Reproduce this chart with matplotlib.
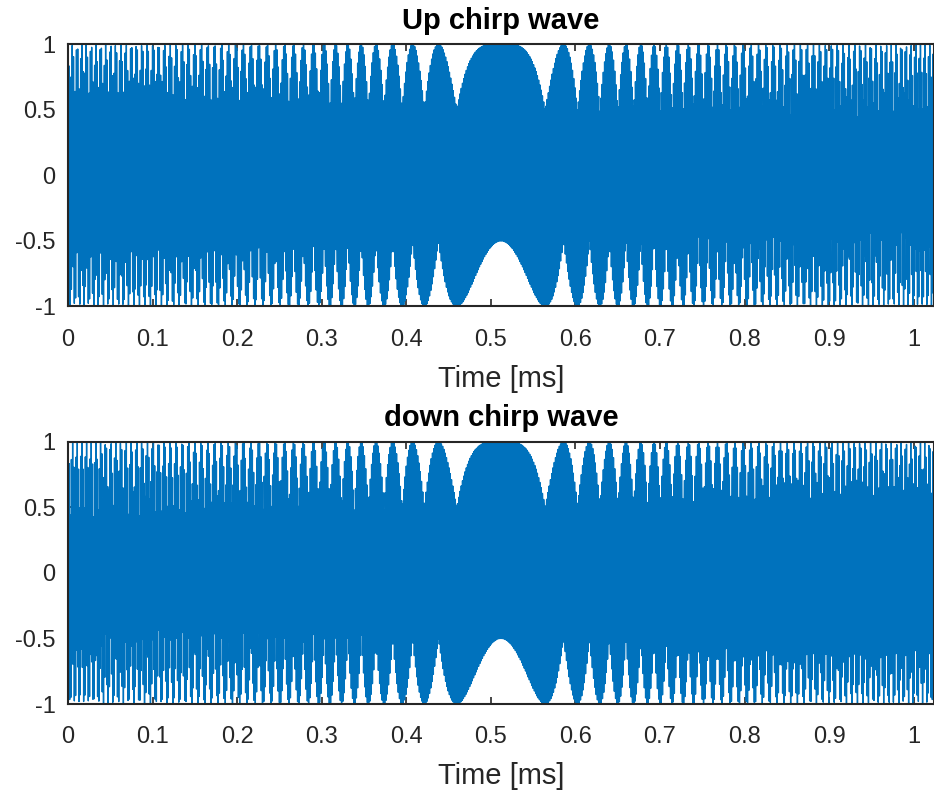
import numpy as np
import matplotlib
matplotlib.use('Agg')
import matplotlib.pyplot as plt

# LoRa-style chirp settings
SF = 7
BW = 125e3          # Hz
fs = 2e6            # Hz
carrier_ratio = 1 / 3   # carrier as a fraction of fs

T = 2**SF / BW
n = np.arange(int(round(T * fs)) + 1)
t = n / fs

# chirp phase sweeping -BW/2 .. +BW/2
chirp_phase = 2 * np.pi * (-BW / 2 * t + BW / (2 * T) * t**2)
carrier = 2 * np.pi * carrier_ratio * n

up_chirp = np.cos(carrier + chirp_phase)
down_chirp = np.cos(carrier - chirp_phase)

xticks = np.arange(0, 1.01, 0.1)
xtick_labels = ['0', '0.1', '0.2', '0.3', '0.4', '0.5', '0.6', '0.7', '0.8', '0.9', '1']
yticks = [-1, -0.5, 0, 0.5, 1]
ytick_labels = ['-1', '-0.5', '0', '0.5', '1']

plt.rcParams['font.family'] = ['Liberation Sans', 'DejaVu Sans']

fig = plt.figure(figsize=(9.34, 7.93), dpi=100)
ax1 = fig.add_axes([0.0728, 0.6135, 0.9272, 0.331])
ax2 = fig.add_axes([0.0728, 0.1122, 0.9272, 0.331])

for ax, sig, title in [(ax1, up_chirp, 'Up chirp wave'), (ax2, down_chirp, 'down chirp wave')]:
    ax.plot(t * 1e3, sig, color='#0072BD', linewidth=1.0)
    ax.set_xlim(0, T * 1e3)
    ax.set_ylim(-1, 1)
    ax.set_xticks(xticks)
    ax.set_xticklabels(xtick_labels)
    ax.set_yticks(yticks)
    ax.set_yticklabels(ytick_labels)
    ax.tick_params(direction='in', top=True, right=True, labelsize=17,
                   colors='#262626', length=5, width=1.2)
    ax.tick_params(axis='x', pad=16)
    ax.tick_params(axis='y', pad=9)
    for s in ax.spines.values():
        s.set_color('#262626')
        s.set_linewidth(1.5)
    ax.set_xlabel('Time [ms]', fontsize=21, color='#262626', labelpad=10)
    ax.set_title(title, fontsize=21, fontweight='bold', pad=11)

fig.savefig('out.png', dpi=100)
